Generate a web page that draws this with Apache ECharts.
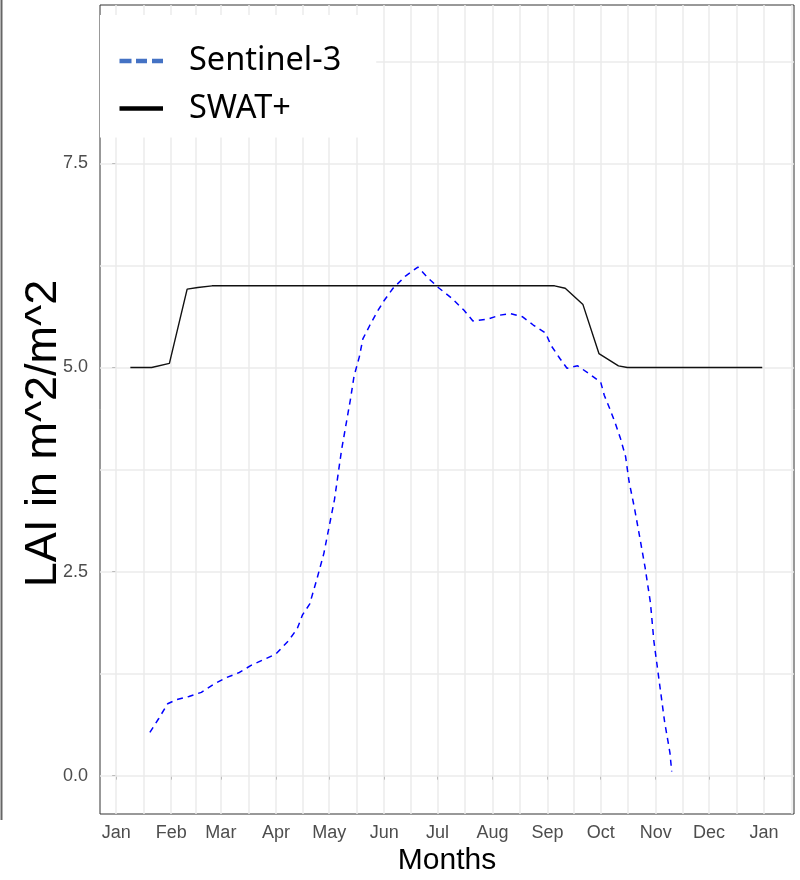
<!DOCTYPE html>
<html><head><meta charset="utf-8">
<script src="https://cdn.jsdelivr.net/npm/echarts@6/dist/echarts.min.js"></script>
<style>html,body{margin:0;padding:0;background:#fff}#c{width:800px;height:880px}</style>
</head><body><div id="c"></div>
<script>
// ---- data ----
const monthLabels = ['Jan','Feb','Mar','Apr','May','Jun','Jul','Aug','Sep','Oct','Nov','Dec','Jan'];
const monthStarts = ['2021-01-01','2021-02-01','2021-03-01','2021-04-01','2021-05-01','2021-06-01','2021-07-01','2021-08-01','2021-09-01','2021-10-01','2021-11-01','2021-12-01','2022-01-01'];
const yTickLabels = [0, 2.5, 5, 7.5];
const yMinorGrid = [1.25, 3.75, 6.25, 8.75];

const sentinelDates = ['2021-01-20','2021-01-25','2021-01-30','2021-02-04','2021-02-11','2021-02-18','2021-02-25','2021-03-04','2021-03-11','2021-03-18','2021-03-25','2021-04-01','2021-04-08','2021-04-13','2021-04-16','2021-04-20','2021-04-24','2021-04-28','2021-05-01','2021-05-04','2021-05-08','2021-05-13','2021-05-15','2021-05-18','2021-05-20','2021-05-24','2021-05-28','2021-06-01','2021-06-06','2021-06-13','2021-06-20','2021-06-26','2021-07-02','2021-07-09','2021-07-16','2021-07-21','2021-07-29','2021-08-05','2021-08-11','2021-08-18','2021-08-24','2021-08-31','2021-09-03','2021-09-08','2021-09-12','2021-09-18','2021-09-24','2021-10-01','2021-10-03','2021-10-06','2021-10-09','2021-10-12','2021-10-15','2021-10-17','2021-10-20','2021-10-23','2021-10-26','2021-10-29','2021-10-31','2021-11-03','2021-11-06','2021-11-09','2021-11-10'];
const sentinelLAI = [0.53,0.70,0.88,0.93,0.97,1.02,1.12,1.20,1.26,1.35,1.42,1.49,1.65,1.80,1.97,2.10,2.40,2.72,3.05,3.38,3.99,4.61,4.89,5.13,5.35,5.52,5.68,5.82,5.97,6.12,6.23,6.09,5.97,5.85,5.70,5.57,5.59,5.64,5.66,5.62,5.52,5.42,5.27,5.11,4.99,5.02,4.93,4.82,4.66,4.50,4.33,4.14,3.91,3.60,3.28,2.92,2.55,2.12,1.64,1.15,0.66,0.28,0.05];

const swatDates = ['2021-01-09','2021-01-21','2021-01-22','2021-01-31','2021-02-10','2021-02-16','2021-02-24','2021-09-05','2021-09-11','2021-09-21','2021-09-30','2021-10-11','2021-10-16','2021-12-31'];
const swatLAI = [5.00,5.00,5.01,5.05,5.96,5.98,6.00,6.00,5.97,5.77,5.17,5.02,5.00,5.00];

// ---- helpers ----
function dayOfYear(s){ const p = s.split('-').map(Number); return (Date.UTC(p[0],p[1]-1,p[2]) - Date.UTC(2021,0,1)) / 86400000; }
const monthDays = monthStarts.map(dayOfYear);
const xMin = -9.1, xMax = 381.9, yMin = -0.47, yMax = 9.44;
const minorX = [];
for (let i = 0; i < monthDays.length - 1; i++) minorX.push((monthDays[i] + monthDays[i+1]) / 2);
minorX.push(monthDays[monthDays.length-1] + 15.5);
const gridX = monthDays.concat(minorX).filter(v => v > xMin && v < xMax);
const gridY = yTickLabels.concat(yMinorGrid);

const gridStyle = {color:'#ebebeb', width:1.5, type:'solid'};
const markData = gridX.map(v => ({xAxis: v, lineStyle: gridStyle}))
  .concat(gridY.map(v => ({yAxis: v, lineStyle: gridStyle})));

const chart = echarts.init(document.getElementById('c'), null, {renderer:'canvas'});
chart.setOption({
  animation: false,
  backgroundColor: '#fff',
  grid: {left: 100, right: 6, top: 5, bottom: 66, outerBoundsMode: 'none', containLabel: false,
         show: true, borderColor: '#333', borderWidth: 1, backgroundColor: 'transparent'},
  xAxis: {
    type: 'value', min: xMin, max: xMax,
    name: 'Months', nameLocation: 'middle', nameGap: 32, nameMoveOverlap: false,
    nameTextStyle: {fontFamily: 'Liberation Sans', fontSize: 30, color: '#000'},
    axisLine: {show: false},
    axisTick: {show: true, length: 4, lineStyle: {color: '#333'}, customValues: monthDays},
    axisLabel: {customValues: monthDays, margin: 10, fontFamily: 'Liberation Sans', fontSize: 18, color: '#4d4d4d',
      formatter: v => monthLabels[monthDays.indexOf(v)]},
    splitLine: {show: false}
  },
  yAxis: {
    type: 'value', min: yMin, max: yMax,
    name: 'LAI in m^2/m^2', nameLocation: 'middle', nameGap: 34, nameRotate: 90, nameMoveOverlap: false,
    nameTextStyle: {fontFamily: 'Liberation Sans', fontSize: 45, color: '#000', padding: [0, 48, 0, 0]},
    axisLine: {show: false},
    axisTick: {show: true, length: 4, lineStyle: {color: '#333'}, customValues: yTickLabels},
    axisLabel: {customValues: yTickLabels, margin: 12, fontFamily: 'Liberation Sans', fontSize: 18, color: '#4d4d4d',
      formatter: v => v.toFixed(1)},
    splitLine: {show: false}
  },
  legend: {
    show: true, left: 100, top: 15, orient: 'vertical', z: 10, zlevel: 1,
    backgroundColor: '#fff', padding: [26, 35, 9, 19.5],
    itemWidth: 43.5, itemHeight: 4.5, itemGap: 7.6,
    formatter: name => '{g|}' + name,
    textStyle: {fontFamily: 'Noto Sans', fontSize: 32.5, color: '#000', lineHeight: 40,
      rich: {g: {width: 21, height: 10}}},
    data: [
      {name: 'Sentinel-3', icon: 'path://M0,0h12v4.5h-12z M16.5,0h11v4.5h-11z M32.5,0h11v4.5h-11z',
       itemStyle: {color: '#4472c4', borderWidth: 0, opacity: 1}},
      {name: 'SWAT+', icon: 'path://M0,0h43.5v4.5h-43.5z',
       itemStyle: {color: '#000', borderWidth: 0, opacity: 1}}
    ]
  },
  graphic: [{type: 'line', shape: {x1: 1.5, y1: 0, x2: 1.5, y2: 820}, style: {stroke: '#666', lineWidth: 2}}],
  series: [
    {type: 'line', name: '_grid', data: [], z: 1, silent: true,
     markLine: {z: 1, silent: true, symbol: ['none','none'], label: {show: false}, animation: false, data: markData}},
    {type: 'line', name: 'Sentinel-3', z: 3, showSymbol: false, symbol: 'none',
     data: sentinelDates.map((d, i) => [dayOfYear(d), sentinelLAI[i]]),
     lineStyle: {color: '#0000ff', width: 1.5, type: [6,5]}, itemStyle: {color: '#0000ff'}},
    {type: 'line', name: 'SWAT+', z: 3, showSymbol: false, symbol: 'none',
     data: swatDates.map((d, i) => [dayOfYear(d), swatLAI[i]]),
     lineStyle: {color: '#111', width: 1.4}, itemStyle: {color: '#111'}}
  ]
});
</script></body></html>
